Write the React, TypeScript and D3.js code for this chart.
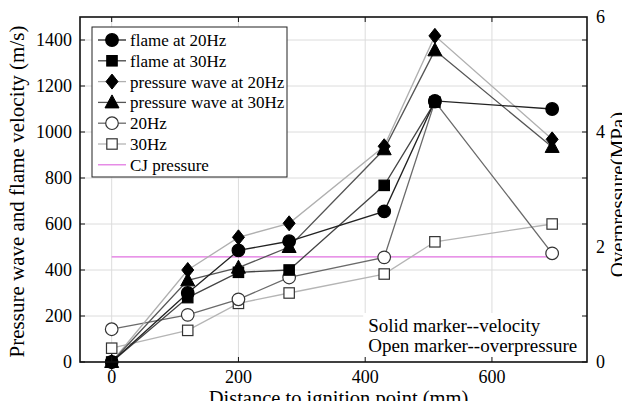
import React, { useEffect, useRef } from 'react';
import * as d3 from 'd3';

// distance to ignition point (mm)
const distances = [0, 120, 200, 280, 430, 510, 695];

// velocities (m/s)
const flame20 = [0, 300, 485, 525, 655, 1135, 1100];
const flame30 = [0, 280, 390, 400, 768, 1130];
const wave20 = [0, 400, 542, 603, 938, 1418, 968];
const wave30 = [0, 355, 410, 500, 925, 1355, 935];

// overpressure (MPa)
const press20 = [0.57, 0.82, 1.09, 1.47, 1.82, 4.53, 1.89];
const press30 = [0.24, 0.55, 1.02, 1.2, 1.53, 2.09, 2.4];
const cjPressure = 1.83;

const xTicks = [0, 200, 400, 600];
const yTicks = [0, 200, 400, 600, 800, 1000, 1200, 1400];
const yRightLabels = [0, 2, 4, 6];

type Series = {
  name: string;
  values: number[];
  axis: 'left' | 'right';
  marker: 'circle' | 'square' | 'diamond' | 'triangle';
  filled: boolean;
  color: string;
};

const series: Series[] = [
  { name: '30Hz', values: press30, axis: 'right', marker: 'square', filled: false, color: '#b5b5b5' },
  { name: '20Hz', values: press20, axis: 'right', marker: 'circle', filled: false, color: '#6a6a6a' },
  { name: 'pressure wave at 20Hz', values: wave20, axis: 'left', marker: 'diamond', filled: true, color: '#b0b0b0' },
  { name: 'pressure wave at 30Hz', values: wave30, axis: 'left', marker: 'triangle', filled: true, color: '#555' },
  { name: 'flame at 30Hz', values: flame30, axis: 'left', marker: 'square', filled: true, color: '#444' },
  { name: 'flame at 20Hz', values: flame20, axis: 'left', marker: 'circle', filled: true, color: '#222' },
];

const legendOrder = ['flame at 20Hz', 'flame at 30Hz', 'pressure wave at 20Hz', 'pressure wave at 30Hz', '20Hz', '30Hz'];

const font = '"Liberation Serif", "Times New Roman", serif';

function drawMarker(g: any, kind: string, filled: boolean, x: number, y: number) {
  const fill = filled ? '#000' : '#fff';
  const stroke = filled ? '#000' : '#333';
  if (kind === 'circle') {
    g.append('circle').attr('cx', x).attr('cy', y).attr('r', 6.3)
      .attr('fill', fill).attr('stroke', stroke).attr('stroke-width', 1.2);
  } else if (kind === 'square') {
    const s = 5.2;
    g.append('rect').attr('x', x - s).attr('y', y - s).attr('width', 2 * s).attr('height', 2 * s)
      .attr('fill', fill).attr('stroke', stroke).attr('stroke-width', 1.2);
  } else if (kind === 'diamond') {
    g.append('path').attr('d', `M${x},${y - 7.5}L${x + 6},${y}L${x},${y + 7.5}L${x - 6},${y}Z`)
      .attr('fill', fill).attr('stroke', stroke);
  } else {
    g.append('path').attr('d', `M${x},${y - 7.5}L${x + 7},${y + 5.5}L${x - 7},${y + 5.5}Z`)
      .attr('fill', fill).attr('stroke', stroke);
  }
}

const Chart = () => {
  const ref = useRef<SVGSVGElement>(null);

  useEffect(() => {
    const svg = d3.select(ref.current);
    svg.selectAll('*').remove();

    const margin = { top: 17, right: 43, bottom: 47, left: 80 };
    const W = 630, H = 409;
    const width = W - margin.left - margin.right;
    const height = H - margin.top - margin.bottom;

    const g = svg.append('g').attr('transform', `translate(${margin.left},${margin.top})`);

    const x = d3.scaleLinear().domain([-50, 750]).range([0, width]);
    const y = d3.scaleLinear().domain([0, 1500]).range([height, 0]);
    const yR = d3.scaleLinear().domain([0, 6]).range([height, 0]);

    // grid
    g.append('g').selectAll('line').data(xTicks).enter().append('line')
      .attr('x1', d => x(d)).attr('x2', d => x(d)).attr('y1', 0).attr('y2', height)
      .attr('stroke', '#dcdcdc');
    g.append('g').selectAll('line').data(yTicks.slice(1)).enter().append('line')
      .attr('x1', 0).attr('x2', width).attr('y1', d => y(d)).attr('y2', d => y(d))
      .attr('stroke', '#dcdcdc');

    // CJ pressure
    g.append('line')
      .attr('x1', x(distances[0])).attr('x2', x(distances[distances.length - 1]))
      .attr('y1', yR(cjPressure)).attr('y2', yR(cjPressure))
      .attr('stroke', '#e070e0').attr('stroke-width', 1.2);

    // white box behind note
    g.append('rect').attr('x', x(400) - 2).attr('y', height - 49).attr('width', width - x(400)).attr('height', 48)
      .attr('fill', '#fff');

    // lines
    series.forEach(s => {
      const sc = s.axis === 'left' ? y : yR;
      const line = d3.line<number>().x((_, i) => x(distances[i])).y(d => sc(d));
      g.append('path').datum(s.values).attr('d', line).attr('fill', 'none')
        .attr('stroke', s.color).attr('stroke-width', 1.3);
    });
    series.forEach(s => {
      const sc = s.axis === 'left' ? y : yR;
      s.values.forEach((v, i) => drawMarker(g, s.marker, s.filled, x(distances[i]), sc(v)));
    });

    // frame
    g.append('rect').attr('width', width).attr('height', height).attr('fill', 'none')
      .attr('stroke', '#111').attr('stroke-width', 1.6);

    // ticks
    const tl = 5;
    xTicks.forEach(t => {
      g.append('line').attr('x1', x(t)).attr('x2', x(t)).attr('y1', height).attr('y2', height - tl).attr('stroke', '#111');
      g.append('line').attr('x1', x(t)).attr('x2', x(t)).attr('y1', 0).attr('y2', tl).attr('stroke', '#111');
      g.append('text').attr('x', x(t)).attr('y', height + 21).attr('text-anchor', 'middle')
        .attr('font-family', font).attr('font-size', 18).text(t);
    });
    yTicks.forEach(t => {
      g.append('line').attr('x1', 0).attr('x2', tl).attr('y1', y(t)).attr('y2', y(t)).attr('stroke', '#111');
      g.append('line').attr('x1', width).attr('x2', width - tl).attr('y1', y(t)).attr('y2', y(t)).attr('stroke', '#111');
      g.append('text').attr('x', -8).attr('y', y(t)).attr('dy', '0.35em').attr('text-anchor', 'end')
        .attr('font-family', font).attr('font-size', 18).text(t);
    });
    yRightLabels.forEach(t => {
      g.append('text').attr('x', width + 9).attr('y', yR(t)).attr('dy', '0.35em')
        .attr('font-family', font).attr('font-size', 18).text(t);
    });

    // axis titles
    g.append('text').attr('x', width / 2 + 5).attr('y', height + 43).attr('text-anchor', 'middle')
      .attr('font-family', font).attr('font-size', 20.5).text('Distance to ignition point (mm)');
    g.append('text').attr('transform', `translate(${-56},${height / 2 + 2}) rotate(-90)`).attr('text-anchor', 'middle')
      .attr('font-family', font).attr('font-size', 21).text('Pressure wave and flame velocity  (m/s)');
    g.append('text').attr('transform', `translate(${width + 38},${height / 2 + 5}) rotate(-90)`).attr('text-anchor', 'middle')
      .attr('font-family', font).attr('font-size', 21).text('Overpressure(MPa)');

    // note
    g.append('text').attr('x', x(400) + 3).attr('y', height - 30).attr('font-family', font).attr('font-size', 19)
      .text('Solid marker--velocity');
    g.append('text').attr('x', x(400) + 3).attr('y', height - 10).attr('font-family', font).attr('font-size', 19)
      .text('Open marker--overpressure');

    // legend
    const lg = g.append('g').attr('transform', `translate(${12},${10})`);
    lg.append('rect').attr('width', 195).attr('height', 150).attr('fill', '#fff').attr('stroke', '#222');
    const rowH = 20.8;
    legendOrder.forEach((name, i) => {
      const s = series.find(d => d.name === name)!;
      const cy = 13 + i * rowH;
      lg.append('line').attr('x1', 6).attr('x2', 34).attr('y1', cy).attr('y2', cy).attr('stroke', s.color).attr('stroke-width', 1.3);
      drawMarker(lg, s.marker, s.filled, 20, cy);
      lg.append('text').attr('x', 38).attr('y', cy).attr('dy', '0.35em').attr('font-family', font).attr('font-size', 17).text(name);
    });
    const cy = 13 + 6 * rowH;
    lg.append('line').attr('x1', 6).attr('x2', 34).attr('y1', cy).attr('y2', cy).attr('stroke', '#e070e0').attr('stroke-width', 1.2);
    lg.append('text').attr('x', 38).attr('y', cy).attr('dy', '0.35em').attr('font-family', font).attr('font-size', 17).text('CJ pressure');
  }, []);

  return <svg ref={ref} width={630} height={409} style={{ display: 'block' }} />;
};

export default function App() {
  return (
    <div style={{ margin: -8 }}>
      <Chart />
    </div>
  );
}
